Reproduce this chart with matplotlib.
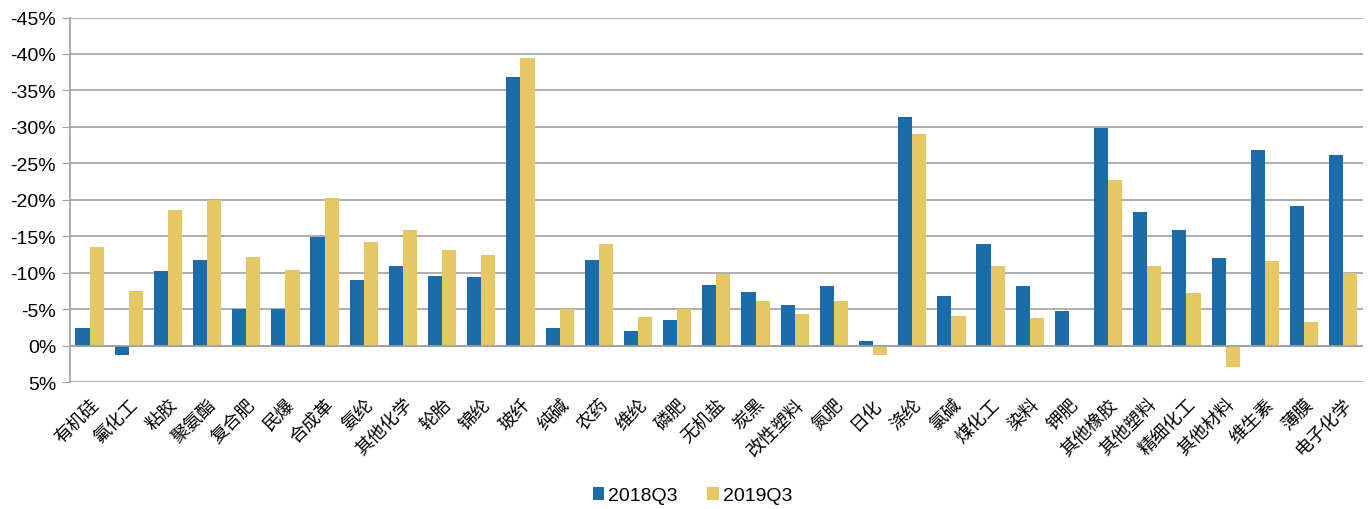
import matplotlib
matplotlib.use("Agg")
import matplotlib.pyplot as plt
import matplotlib.ticker as mticker
import numpy as np

plt.rcParams["font.family"] = ["Liberation Sans", "Noto Sans CJK SC", "DejaVu Sans"]

categories = [
    "有机硅", "氟化工", "粘胶", "聚氨酯", "复合肥", "民爆", "合成革", "氨纶",
    "其他化学", "轮胎", "锦纶", "玻纤", "纯碱", "农药", "维纶", "磷肥",
    "无机盐", "炭黑", "改性塑料", "氮肥", "日化", "涤纶", "氯碱", "煤化工",
    "染料", "钾肥", "其他橡胶", "其他塑料", "精细化工", "其他材料", "维生素",
    "薄膜", "电子化学",
]
q3_2018 = [
    -2.4, 1.3, -10.2, -11.8, -5.0, -5.0, -14.9, -9.0,
    -11.0, -9.6, -9.4, -36.9, -2.4, -11.8, -2.1, -3.6,
    -8.4, -7.4, -5.6, -8.2, -0.7, -31.4, -6.8, -14.0,
    -8.2, -4.8, -29.8, -18.3, -15.9, -12.0, -26.9,
    -19.1, -26.1,
]
q3_2019 = [
    -13.6, -7.5, -18.6, -20.0, -12.2, -10.4, -20.3, -14.2,
    -15.9, -13.2, -12.4, -39.5, -5.0, -14.0, -3.9, -5.1,
    -9.8, -6.2, -4.3, -6.2, 1.3, -29.0, -4.1, -11.0,
    -3.8, 0.0, -22.7, -11.0, -7.2, 2.9, -11.6,
    -3.3, -10.0,
]
series_names = ["2018Q3", "2019Q3"]

blue = "#1B6CA8"
yellow = "#E5C865"

fig = plt.figure(figsize=(13.71, 5.10), dpi=100)
ax = fig.add_axes([0.051, 0.2484, 0.943, 0.7153])

x = np.arange(len(categories))
w = 0.36
ax.bar(x - w / 2, q3_2018, w, color=blue, label=series_names[0], zorder=3)
ax.bar(x + w / 2, q3_2019, w, color=yellow, label=series_names[1], zorder=3)

ax.set_ylim(5, -45)
ax.set_xlim(-0.5, len(categories) - 0.5)
ax.yaxis.set_major_locator(mticker.MultipleLocator(5))
ax.yaxis.set_major_formatter(mticker.FuncFormatter(lambda v, p: f"{v:.0f}%"))
ax.grid(axis="y", color="#A0A0A0", linewidth=1.2, zorder=0)
ax.axhline(0, color="#A0A0A0", linewidth=1.2, zorder=4)

for s in ["top", "right", "bottom"]:
    ax.spines[s].set_visible(False)
ax.spines["left"].set_color("#A0A0A0")
ax.spines["left"].set_linewidth(1.2)

ax.tick_params(axis="y", length=6, color="#A0A0A0", labelsize=14, pad=4)
ax.tick_params(axis="x", length=0, pad=9)
ax.set_xticks(x)
ax.set_xticklabels(categories, rotation=45, ha="right", va="top",
                   rotation_mode="anchor", fontsize=13,
                   family=["Noto Sans CJK SC", "DejaVu Sans"])

fig.legend(loc="lower center", bbox_to_anchor=(0.505, -0.025), ncol=2, frameon=False,
           fontsize=14, handlelength=0.6, handleheight=0.6, handletextpad=0.2,
           columnspacing=1.5)

fig.savefig("out.png", dpi=100)
